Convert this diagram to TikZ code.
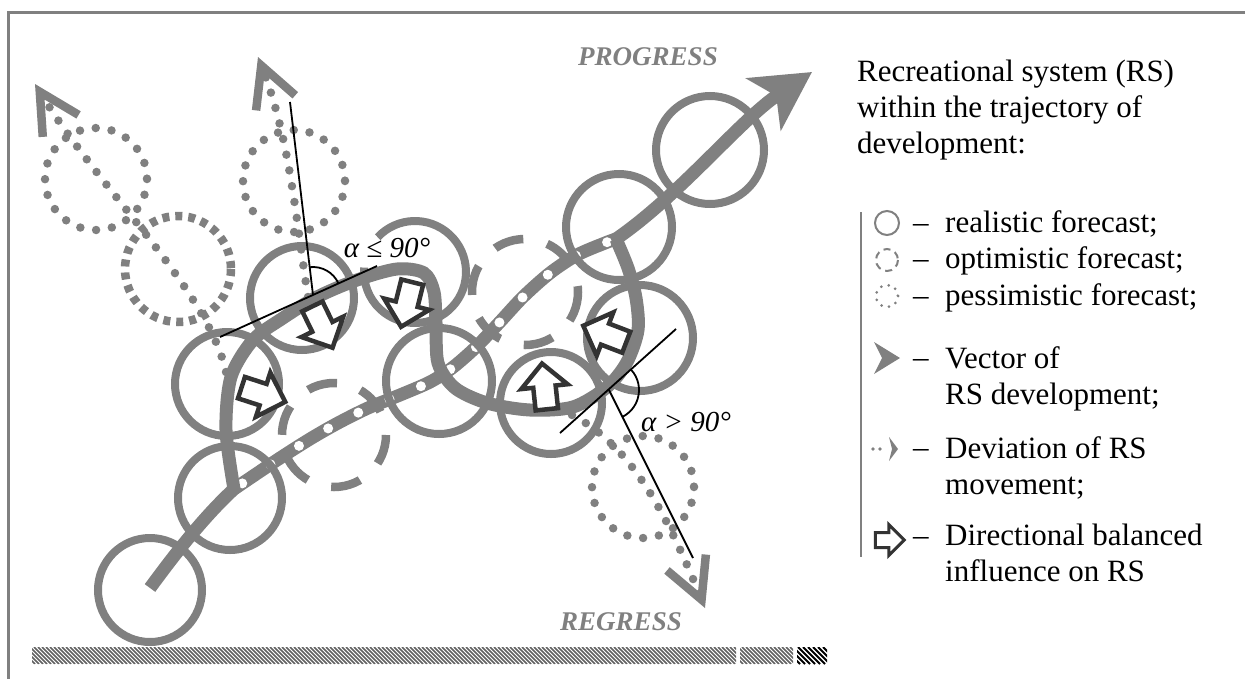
\documentclass[tikz,border=0pt]{standalone}
\usepackage{fontspec}
\setmainfont{Liberation Serif}
\usetikzlibrary{arrows.meta,shapes.arrows}

\definecolor{rsgray}{HTML}{808080}
\definecolor{rsdark}{HTML}{333333}

\tikzset{
  real/.style={draw=rsgray, line width=8pt},
  optim/.style={draw=rsgray, line width=8.5pt, dash pattern=on 30pt off 24.5pt},
  optimsq/.style={draw=rsgray, line width=8.5pt, dash pattern=on 7pt off 6pt},
  pessim/.style={draw=rsgray, line width=8.5pt, line cap=round, dash pattern=on 0pt off 16pt},
  vec/.style={draw=rsgray, line width=13pt},
  devi/.style={draw=rsgray, line width=13pt,
    postaction={draw=white, line width=10pt, line cap=round, dash pattern=on 0pt off 34pt, dash phase=24pt}},
  deviarr/.style={pessim, -{Straight Barb[length=40pt, width=42pt, line width=8.5pt]}},
  infl/.style={single arrow, draw=rsdark, fill=white, line width=4.5pt, inner sep=9pt,
    single arrow head extend=12pt, minimum height=46pt},
  normline/.style={draw=black, line width=1.8pt},
  lgd/.style={anchor=base west, inner sep=0pt, font=\fontsize{31}{36}\selectfont, align=left},
  trend/.style={anchor=base, inner sep=0pt, text=rsgray, font=\fontsize{27}{30}\selectfont\bfseries\itshape},
  angl/.style={anchor=base, inner sep=0pt, font=\fontsize{29}{32}\selectfont\itshape},
  hatch/.style={draw=rsgray!75!black, line width=1.7pt},
}

\begin{document}
\begin{tikzpicture}[x=1pt, y=-1pt]
    \useasboundingbox (0,0) rectangle (1245,678);

    % Frame and ground
    \draw[rsgray, line width=3pt] (8,700) -- (8,12) -- (1260,12);
    \draw[rsgray, line width=1.5pt] (861,212) -- (861,557);
    \begin{scope}
        \clip (32,647) rectangle (736,664) (740,647) rectangle (793,664);
        \foreach \i in {14,18,...,794} \draw[hatch] (\i,647) -- ++(17,17);
    \end{scope}
    \begin{scope}
        \clip (797,647) rectangle (827,664);
        \foreach \i in {778,783,...,828} \draw[hatch, draw=black, line width=1.8pt] (\i,647) -- ++(17,17);
    \end{scope}

    % Pessimistic forecasts
    \draw[pessim] (96,179) circle[radius=51];
    \draw[pessim] (294,181) circle[radius=51];
    \draw[pessim] (643,487) circle[radius=51];
    \draw[optimsq] (178,269) circle[radius=53];

    % Deviation of RS movement
    \coordinate (fork) at (234,489);
    \coordinate (join) at (616,239);
    \draw[devi] plot[smooth] coordinates {(fork) (277,460) (310,439) (338,423) (368,408) (400,395) (430,382) (452,368) (475,348) (498,324) (523,297) (550,273) (577,255) (605,243) (join)};

    % Optimistic forecasts
    \draw[optim] (334,435) circle[radius=52];
    \draw[optim] (525,292) circle[radius=53];

    % Realistic forecasts
    \draw[real] (150,590) circle[radius=52];
    \draw[real] (230,498) circle[radius=52];
    \draw[real] (227,384) circle[radius=52];
    \draw[real] (302,298) circle[radius=52];
    \draw[real] (415,272) ++(-137:51) arc[start angle=-137, end angle=185, radius=51];
    \draw[real] (439,381) circle[radius=53];
    \draw[real] (551,403) circle[radius=51];
    \draw[real] (640,338) circle[radius=53];
    \draw[real] (619,227) circle[radius=53];
    \draw[real] (710,150) circle[radius=54];

    % Vector of RS development
    \coordinate (start) at (150,588);
    \coordinate (goal) at (812,72);
    \draw[vec] (start) .. controls (180,547) and (207,514) .. (fork)
        -- plot[smooth] coordinates {(fork) (226,430) (231,377) (253,340) (283,318) (317,297) (357,280) (397,269) (424,273) (434,292) (436,323) (438,363) (455,388) (487,403) (530,410) (573,407) (607,387) (627,362) (638,330) (636,298) (628,268) (join)};
    \draw[vec, -{Stealth[length=58pt, width=62pt, inset=15pt]}] (join) .. controls (680,195) and (740,120) .. (goal);

    % Deviations out of the trajectory
    \coordinate (dv1) at (226,372);
    \coordinate (dv1e) at (35,84);
    \draw[deviarr] (dv1) .. controls (208,290) and (100,190) .. (dv1e);
    \coordinate (dv2) at (308,297);
    \coordinate (dv2e) at (258,57);
    \draw[deviarr] (dv2) .. controls (296,220) and (290,140) .. (dv2e);
    \coordinate (dv3) at (572,415);
    \coordinate (dv3e) at (705,608);
    \draw[deviarr] (dv3) .. controls (630,445) and (665,510) .. (dv3e);

    % Directional balanced influence
    \node[infl, rotate=-18] (f1) at (258,393) {};
    \node[infl, rotate=-64] (f2) at (320,322) {};
    \node[infl, rotate=-104] (f3) at (408,299) {};
    \node[infl, rotate=96] (f4) at (545,392) {};
    \node[infl, rotate=159] (f5) at (610,336) {};

    % Angles between tangent and deviation
    \coordinate (tp1) at (313,295);
    \coordinate (tp1a) at (220,337);
    \coordinate (tp1b) at (377,266);
    \coordinate (np1) at (290,102);
    \draw[normline] (tp1a) -- (tp1b);
    \draw[normline] (tp1) -- (np1);
    \draw[normline] (tp1) ++(-24.4:28) arc[start angle=-24.4, end angle=-96.8, radius=28];
    \node[angl] (al1) at (387,257) {α ≤ 90°};

    \coordinate (tp2) at (609,390);
    \coordinate (tp2a) at (560,433);
    \coordinate (tp2b) at (676,329);
    \coordinate (np2) at (693,558);
    \draw[normline] (tp2a) -- (tp2b);
    \draw[normline] (tp2) -- (np2);
    \draw[normline] (tp2) ++(-42.3:30) arc[start angle=-42.3, end angle=63.4, radius=30];
    \node[angl] (al2) at (686,431) {α > 90°};

    \node[trend] (prog) at (648,65) {PROGRESS};
    \node[trend] (regr) at (621,630) {REGRESS};

    % Legend
    \node[lgd, anchor=north west] (head) at (857,60) {Recreational system (RS)\\within the trajectory of\\development:};
    \draw[rsgray, line width=2pt] (887,223) circle[radius=12];
    \draw[rsgray, line width=2pt, dash pattern=on 7pt off 5pt] (887,260) circle[radius=11];
    \draw[rsgray, line width=3pt, line cap=round, dash pattern=on 0pt off 7.6pt] (887,296) circle[radius=11];
    \fill[rsgray] (900,358) -- (874,342) -- (882,358) -- (874,374) -- cycle;
    \fill[rsgray] (873,449) circle[radius=1.8] (880,449) circle[radius=1.8];
    \fill[rsgray] (898,449) -- (889,437) -- (892,449) -- (889,461) -- cycle;
    \node[infl, line width=3pt, inner sep=6pt, single arrow head extend=8pt, minimum height=29pt] (lg6) at (886,540) {};

    \node[lgd] (m1) at (913,232) {–};
    \node[lgd] (e1) at (945,232) {realistic forecast;};
    \node[lgd] (m2) at (913,268) {–};
    \node[lgd] (e2) at (945,268) {optimistic forecast;};
    \node[lgd] (m3) at (913,305) {–};
    \node[lgd] (e3) at (945,305) {pessimistic forecast;};
    \node[lgd] (m4) at (913,367) {–};
    \node[lgd, anchor=north west] (e4) at (945,346) {Vector of\\RS development;};
    \node[lgd] (m5) at (913,457) {–};
    \node[lgd, anchor=north west] (e5) at (945,436) {Deviation of RS\\movement;};
    \node[lgd] (m6) at (913,545) {–};
    \node[lgd, anchor=north west] (e6) at (945,524) {Directional balanced\\influence on RS};
\end{tikzpicture}
\end{document}
